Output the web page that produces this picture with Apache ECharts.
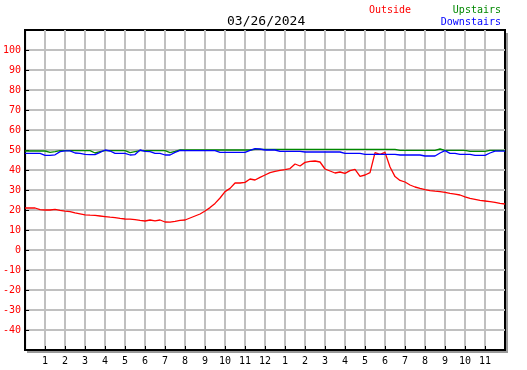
<!DOCTYPE html>
<html>
<head>
<meta charset="utf-8">
<script src="https://cdn.jsdelivr.net/npm/echarts@6/dist/echarts.min.js"></script>
<style>
  html, body { margin: 0; padding: 0; background: #fff; }
  #chart { width: 527px; height: 370px; }
</style>
</head>
<body>
<div id="chart"></div>
<script>
// readings every 15 minutes from midnight
const stepHours = 0.25;

const outside = [
  21, 21, 21, 20.2, 20, 20, 20.3, 19.8, 19.4, 19.2,
  18.6, 18.1, 17.6, 17.4, 17.3, 17, 16.7, 16.4, 16.2, 15.8,
  15.5, 15.4, 15.2, 14.8, 14.5, 15, 14.6, 15, 14, 13.9,
  14.3, 14.8, 15, 16, 17, 18, 19.5, 21.2, 23.3, 26,
  29.2, 30.8, 33.5, 33.5, 33.8, 35.5, 35, 36.3, 37.5, 38.7,
  39.3, 39.8, 40.2, 40.7, 43, 42, 43.8, 44.3, 44.5, 44,
  40.5, 39.5, 38.5, 39, 38.3, 39.7, 40.3, 36.8, 37.5, 38.7,
  48.7, 47.8, 48.8, 41.5, 36.7, 34.8, 34, 32.5, 31.5, 30.8,
  30.2, 29.7, 29.4, 29.2, 28.8, 28.3, 27.9, 27.5, 26.6, 25.8,
  25.3, 24.8, 24.5, 24.2, 23.8, 23.3, 23
];

const upstairs = [
  49.5, 49.5, 49.5, 49.5, 49.5, 48.8, 49.2, 49.7, 49.7, 49.7,
  49.7, 49.7, 49.7, 49.7, 48.5, 49.2, 49.7, 49.7, 49.7, 49.7,
  49.7, 48.7, 49.2, 49.7, 49.7, 49.7, 49.7, 49.7, 49.7, 48.7,
  49.3, 50, 50, 50, 50, 50, 50, 50, 50, 50,
  50, 50, 50, 50, 50, 50, 50.3, 50.3, 50.3, 50.3,
  50.3, 50.3, 50.3, 50.3, 50.3, 50.3, 50.3, 50.3, 50.3, 50.3,
  50.3, 50.3, 50.3, 50.3, 50.3, 50.3, 50.3, 50.3, 50.3, 50.3,
  50.3, 50.3, 50.3, 50.3, 50.3, 49.8, 49.8, 49.8, 49.8, 49.8,
  49.8, 49.8, 49.8, 50.5, 49.8, 49.8, 49.8, 49.8, 49.8, 49.3,
  49.3, 49.3, 49.3, 49.8, 49.8, 49.8, 49.8
];

const downstairs = [
  48.3, 48.3, 48.3, 48.3, 47.3, 47.3, 47.6, 49.2, 49.6, 49.6,
  48.5, 48.3, 47.8, 47.7, 47.7, 48.8, 50, 49.5, 48.3, 48.3,
  48.3, 47.5, 47.7, 50, 49.3, 49.2, 48.3, 48.3, 47.5, 47.5,
  48.8, 49.8, 49.7, 49.7, 49.7, 49.7, 49.7, 49.7, 49.7, 48.8,
  48.8, 48.8, 48.8, 48.8, 48.8, 49.8, 50.7, 50.5, 50, 50,
  50, 49.3, 49.3, 49.3, 49.3, 49.3, 49, 49, 49, 49,
  49, 49, 49, 49, 48.3, 48.3, 48.3, 48.3, 47.8, 47.8,
  47.8, 47.8, 47.8, 47.8, 47.8, 47.5, 47.5, 47.5, 47.5, 47.5,
  47, 47, 47, 48.5, 49.7, 48.3, 48.3, 47.8, 47.8, 47.8,
  47.3, 47.3, 47.3, 48.5, 49.4, 49.4, 49.4
];

const hiddenYLabels = [-50, 110];

function toPoints(values) {
  return values.map((v, i) => [i * stepHours, v]);
}

function hourLabel(v) {
  if (v <= 0 || v >= 24) return '';
  return String(v % 12 === 0 ? 12 : v % 12);
}

const mono = 'DejaVu Sans Mono';
const gridGray = { color: '#c0c0c0', width: 2 };

const chart = echarts.init(document.getElementById('chart'));
chart.setOption({
  animation: false,
  backgroundColor: '#fff',
  title: {
    text: '03/26/2024',
    left: 222,
    top: 10,
    textStyle: { fontFamily: mono, fontSize: 13, fontWeight: 'normal', color: '#000' }
  },
  graphic: [
    { type: 'text', left: 369, top: 5, style: { text: 'Outside', fill: '#ff0000', font: '10px ' + mono } },
    { type: 'text', right: 26, top: 5, style: { text: 'Upstairs', fill: '#008800', font: '10px ' + mono } },
    { type: 'text', right: 26, top: 17, style: { text: 'Downstairs', fill: '#0000ff', font: '10px ' + mono } },
    // frame shadow on the right and bottom
    { type: 'line', shape: { x1: 507, y1: 33, x2: 507, y2: 353 }, style: { stroke: '#999', lineWidth: 2 } },
    { type: 'line', shape: { x1: 27, y1: 352, x2: 508, y2: 352 }, style: { stroke: '#999', lineWidth: 2 } }
  ],
  grid: {
    left: 25, top: 30, width: 480, height: 320,
    show: true,
    backgroundColor: '#fff',
    borderColor: '#000',
    borderWidth: 2
  },
  xAxis: {
    type: 'value',
    min: 0, max: 24, interval: 1,
    axisLine: { onZero: false, lineStyle: { color: '#000', width: 2 } },
    axisTick: { inside: true, length: 4, lineStyle: { color: '#000' } },
    axisLabel: {
      margin: 6, color: '#000', fontFamily: mono, fontSize: 10,
      formatter: hourLabel
    },
    splitLine: { show: true, showMinLine: false, showMaxLine: false, lineStyle: gridGray }
  },
  yAxis: {
    type: 'value',
    min: -50, max: 110, interval: 10,
    axisLine: { show: true, onZero: false, lineStyle: { color: '#000', width: 2 } },
    axisTick: { show: true, inside: true, length: 4, lineStyle: { color: '#000' } },
    axisLabel: {
      margin: 4, color: '#ff0000', fontFamily: mono, fontSize: 10,
      formatter: v => hiddenYLabels.includes(v) ? '' : String(v)
    },
    splitLine: { show: true, showMinLine: false, showMaxLine: false, lineStyle: gridGray }
  },
  series: [
    { name: 'Outside', type: 'line', data: toPoints(outside), showSymbol: false, lineStyle: { color: '#ff0000', width: 1.3 } },
    { name: 'Upstairs', type: 'line', data: toPoints(upstairs), showSymbol: false, lineStyle: { color: '#008800', width: 1.3 } },
    { name: 'Downstairs', type: 'line', data: toPoints(downstairs), showSymbol: false, lineStyle: { color: '#0000ff', width: 1.3 } }
  ]
});
</script>
</body>
</html>
